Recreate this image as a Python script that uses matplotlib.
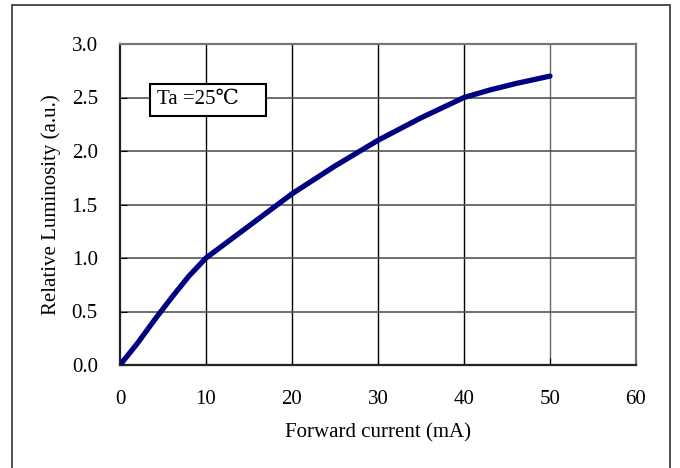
import numpy as np
import matplotlib.pyplot as plt
from matplotlib.patches import Rectangle

plt.rcParams['font.family'] = ['Liberation Serif', 'DejaVu Serif']

# forward current (mA) vs relative luminosity (a.u.)
corriente = [0, 2, 4, 6, 8, 10, 12, 15, 20, 25, 30, 35, 40, 43, 46, 50]
luminosidad = [0, 0.2, 0.42, 0.63, 0.83, 1.0, 1.12, 1.3, 1.6, 1.86, 2.1, 2.31, 2.5, 2.57, 2.63, 2.7]
xticks = [0, 10, 20, 30, 40, 50, 60]
yticks = [0.0, 0.5, 1.0, 1.5, 2.0, 2.5, 3.0]

fig = plt.figure(figsize=(6.8, 4.68), dpi=100)
ax = fig.add_axes([120/680, 1 - 365/468, 516/680, 321/468])

# marco exterior
fig.patches.append(Rectangle((12/680, -0.01), 658/680, 1 - 5/468 + 0.01,
                             transform=fig.transFigure, fill=False,
                             edgecolor='#333333', linewidth=1.2))

ax.plot(corriente, luminosidad, color='#000080', linewidth=3.8,
        solid_capstyle='round', zorder=3)

ax.set_xlim(0, 60)
ax.set_ylim(0, 3.0)
ax.set_xticks(xticks)
ax.set_yticks(yticks)
ax.set_xticklabels([str(t) for t in xticks])
ax.set_yticklabels(['%.1f' % t for t in yticks])
ax.tick_params(direction='in', length=5, labelsize=15, pad=16, colors='black')
ax.tick_params(axis='x', pad=18)

for x in xticks[1:5]:
    ax.axvline(x, color='black', linewidth=1.0, zorder=1)
ax.axvline(50, color='#666666', linewidth=1.0, zorder=1)
for y in yticks[1:]:
    ax.axhline(y, color='#555555', linewidth=1.2, zorder=1)

ax.spines['left'].set_color('#222222')
ax.spines['bottom'].set_color('#222222')
ax.spines['left'].set_linewidth(1.6)
ax.spines['bottom'].set_linewidth(1.6)
ax.spines['top'].set_color('#777777')
ax.spines['right'].set_color('#777777')
ax.spines['top'].set_linewidth(1.6)
ax.spines['right'].set_linewidth(1.6)

ax.set_xlabel('Forward current (mA)', fontsize=15, labelpad=10)
ax.set_ylabel('Relative Luminosity (a.u.)', fontsize=15, labelpad=8)

ax.text(0.071, 0.826, 'Ta =25\u2103    ', transform=ax.transAxes, fontsize=15,
        ha='left', va='center', zorder=4,
        bbox=dict(boxstyle='square,pad=0.3', facecolor='white',
                  edgecolor='black', linewidth=1.5))

fig.savefig('out.png', dpi=100)
